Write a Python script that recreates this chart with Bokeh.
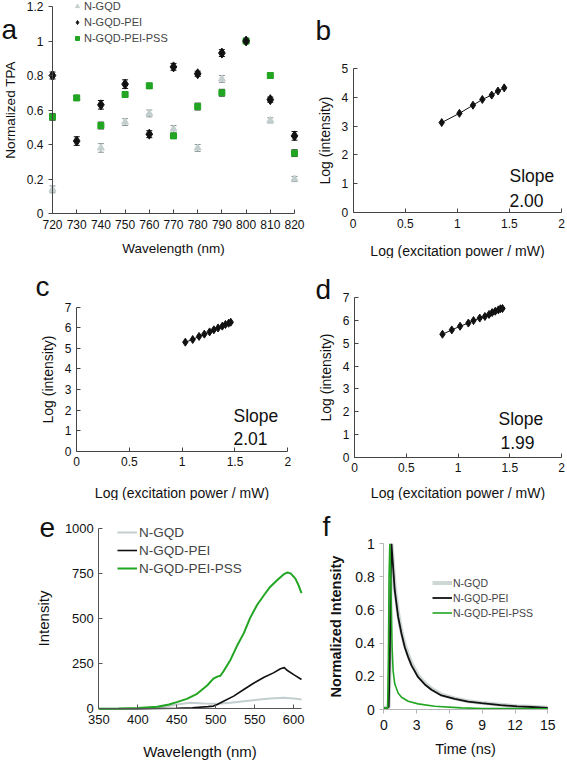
from bokeh.plotting import figure
from bokeh.layouts import row, column
from bokeh.models import (Label, Legend, LegendItem, Whisker, TeeHead, ColumnDataSource,
                          FixedTicker, Range1d, CustomJSTickFormatter)
from bokeh.embed import file_html
from bokeh.resources import INLINE

FONT = "Liberation Sans"
GREEN = "#22a522"
LGRAY = "#c3cece"
BLACK = "#111111"

# ---------------- (a) two-photon absorption ----------------
wavelength_a = [720, 730, 740, 750, 760, 770, 780, 790, 800, 810, 820]
tpa_ngqd = [0.14, 0.67, 0.38, 0.53, 0.58, 0.49, 0.38, 0.78, 1.00, 0.54, 0.20]
tpa_ngqd_err = [0.02, 0.01, 0.025, 0.02, 0.02, 0.02, 0.02, 0.02, 0.01, 0.015, 0.015]
tpa_pei = [0.80, 0.42, 0.63, 0.75, 0.46, 0.85, 0.81, 0.93, 1.00, 0.66, 0.45]
tpa_pei_err = [0.02, 0.025, 0.025, 0.025, 0.02, 0.02, 0.015, 0.02, 0.015, 0.015, 0.025]
tpa_pss = [0.56, 0.67, 0.51, 0.69, 0.74, 0.45, 0.62, 0.70, 1.00, 0.80, 0.35]
tpa_pss_err = [0.02, 0.015, 0.02, 0.015, 0.015, 0.01, 0.02, 0.02, 0.015, 0.015, 0.02]

# ---------------- (b)(c)(d) power dependence ----------------
power_b = [0.85, 1.02, 1.15, 1.24, 1.33, 1.39, 1.45]
logint_b = [3.12, 3.44, 3.72, 3.92, 4.07, 4.21, 4.32]
power_c = [1.03, 1.10, 1.16, 1.21, 1.26, 1.30, 1.34, 1.38, 1.41, 1.44, 1.46]
logint_c = [5.30, 5.43, 5.58, 5.69, 5.80, 5.90, 5.99, 6.08, 6.16, 6.22, 6.27]
power_d = [0.85, 0.94, 1.02, 1.10, 1.15, 1.21, 1.26, 1.30, 1.33, 1.36, 1.39, 1.41, 1.43]
logint_d = [5.40, 5.59, 5.75, 5.89, 6.00, 6.11, 6.18, 6.27, 6.35, 6.41, 6.47, 6.52, 6.53]
slopes = ["2.00", "2.01", "1.99"]

# ---------------- (e) emission spectra ----------------
wl_e_ngqd = [350, 403, 425, 450, 467, 485, 502, 519, 536, 553, 570, 587, 604, 610]
int_e_ngqd = [0, 2, 6, 24, 33, 29, 28, 33, 42, 50, 57, 61, 55, 51]
wl_e_pei = [350, 400, 450, 470, 490, 497, 502, 510, 523, 536, 549, 562, 574, 583, 588, 591, 600, 610]
int_e_pei = [0, 1, 3, 6, 12, 15, 24, 42, 70, 107, 143, 175, 199, 222, 228, 215, 189, 162]
wl_e_pss = [350, 375, 400, 425, 440, 450, 463, 476, 489, 497, 502, 506, 510, 519, 527,
            536, 544, 553, 562, 570, 579, 587, 592, 596, 602, 606, 610]
int_e_pss = [0, 1, 4, 11, 24, 37, 55, 83, 129, 167, 178, 183, 208, 272, 346,
             419, 502, 575, 630, 676, 713, 744, 755, 750, 722, 686, 640]

# ---------------- (f) decay curves ----------------
t_f_ngqd = [0, 0.3, 0.45, 0.55, 0.62, 0.70, 0.85, 1.0, 1.31, 1.62, 1.92, 2.23, 2.53, 3.14,
            3.75, 4.36, 5.27, 6.49, 7.71, 8.93, 10.7, 12.2, 13.5, 15]
i_f_ngqd = [0.01, 0.01, 0.015, 0.3, 0.75, 1.0, 0.87, 0.74, 0.58, 0.47, 0.39, 0.33, 0.28, 0.205,
            0.16, 0.125, 0.09, 0.067, 0.05, 0.04, 0.028, 0.02, 0.016, 0.011]
t_f_pei = [0, 0.3, 0.45, 0.55, 0.62, 0.70, 0.85, 1.0, 1.31, 1.62, 1.92, 2.23, 2.53, 3.14,
           3.75, 4.36, 5.27, 6.49, 7.71, 8.93, 10.7, 12.2, 13.5, 15]
i_f_pei = [0.01, 0.01, 0.015, 0.3, 0.75, 1.0, 0.86, 0.72, 0.56, 0.457, 0.376, 0.316, 0.266, 0.195,
           0.151, 0.119, 0.085, 0.064, 0.048, 0.038, 0.026, 0.019, 0.015, 0.01]
t_f_pss = [0, 0.35, 0.42, 0.48, 0.55, 0.64, 0.70, 0.76, 0.85, 1.0, 1.31, 1.62, 2.23, 3.14,
           4.66, 7.1, 9, 12, 15]
i_f_pss = [0.01, 0.01, 0.3, 0.8, 1.0, 0.78, 0.577, 0.376, 0.235, 0.155, 0.099, 0.074, 0.05,
           0.034, 0.02, 0.01, 0.006, 0.005, 0.004]

series_names = ["N-GQD", "N-GQD-PEI", "N-GQD-PEI-PSS"]

fmt = CustomJSTickFormatter(code="return String(Math.round(tick*1000)/1000);")


def panel(off, size, xmap, ymap):
    """Figure whose frame fills the canvas; axes sit at fixed data locations.
    off: page offset of canvas; xmap/ymap: (data0, page_px0, data1, page_px1)."""
    ox, oy = off
    W, H = size
    x0, px0, x1, px1 = xmap
    y0, py0, y1, py1 = ymap
    sx = (x1 - x0) / (px1 - px0)
    sy = (y1 - y0) / (py0 - py1)
    xr = Range1d(x0 + (ox - px0) * sx, x0 + (ox + W - px0) * sx)
    yr = Range1d(y0 - (oy + H - py0) * sy, y0 + (py0 - oy) * sy)
    p = figure(width=W, height=H, x_range=xr, y_range=yr, title=None,
               output_backend="svg", toolbar_location=None, min_border=0)
    p.xgrid.visible = False
    p.ygrid.visible = False
    p.outline_line_color = None
    p.xaxis.fixed_location = y0
    p.yaxis.fixed_location = x0
    p.xaxis.bounds = (x0, x1)
    p.yaxis.bounds = (y0, y1)

    def to_data(px, py):
        return x0 + (px - px0) * sx, y0 + (py0 - py) * sy

    def legend_loc(px_left, py_bottom):
        return (px_left - ox, oy + H - py_bottom)

    return p, to_data, legend_loc


def style(p, xlabel, ylabel, xticks, yticks, tick_fs, lab_fs, axis_color="#444444",
          x_in=True, y_in=True, ylab_bold=False, xlab_standoff=8, ylab_standoff=6):
    xa, ya = p.xaxis[0], p.yaxis[0]
    for ax in (xa, ya):
        ax.axis_line_color = axis_color
        ax.major_tick_line_color = axis_color
        ax.minor_tick_line_color = None
        ax.major_label_text_font = FONT
        ax.major_label_text_font_size = tick_fs
        ax.major_label_text_color = BLACK
        ax.axis_label_text_font = FONT
        ax.axis_label_text_font_size = lab_fs
        ax.axis_label_text_font_style = "normal"
        ax.axis_label_text_color = BLACK
        ax.formatter = fmt
    xa.axis_label = xlabel
    ya.axis_label = ylabel
    xa.ticker = FixedTicker(ticks=xticks)
    ya.ticker = FixedTicker(ticks=yticks)
    xa.major_tick_in, xa.major_tick_out = (4, 0) if x_in else (0, 4)
    ya.major_tick_in, ya.major_tick_out = (4, 0) if y_in else (0, 4)
    xa.major_label_standoff = 6
    ya.major_label_standoff = 5
    xa.axis_label_standoff = xlab_standoff
    ya.axis_label_standoff = ylab_standoff
    if ylab_bold:
        ya.axis_label_text_font_style = "bold"


def add_text(p, to_data, px, py, txt, size, color=BLACK):
    # py is the wanted baseline in page pixels; the svg text sits ~0.38 em lower
    x, y = to_data(px, py - 0.38 * size)
    p.add_layout(Label(x=x, y=y, text=txt, text_font=FONT, text_font_size=f"{size}px",
                       text_align="left", text_baseline="alphabetic", text_color=color))


def legend(p, items, loc, fs, pitch, gw, standoff):
    lg = Legend(items=items, location=loc, label_text_font=FONT, label_text_font_size=fs,
                label_height=pitch, glyph_height=pitch, glyph_width=gw, spacing=0,
                padding=0, margin=0, label_standoff=standoff,
                border_line_color=None, background_fill_alpha=0)
    p.add_layout(lg)


LW, RW = 305, 261

# ---------------- panel a ----------------
pa, ta, la = panel((0, 0), (LW, 258), (720, 52, 820, 294), (0, 213, 1.2, 6))
style(pa, "Wavelength (nm)", "Normalized TPA", wavelength_a, [0, 0.2, 0.4, 0.6, 0.8, 1.0, 1.2],
      "12px", "13.5px", x_in=True, y_in=False, xlab_standoff=9, ylab_standoff=6)
renders = []
for vals, errs, marker, size, col, ecol in [
        (tpa_ngqd, tpa_ngqd_err, "triangle", 7, LGRAY, "#8a9595"),
        (tpa_pss, tpa_pss_err, "square", 6, GREEN, "#333333"),
        (tpa_pei, tpa_pei_err, "diamond", 10, BLACK, "#111111")]:
    src = ColumnDataSource(dict(x=wavelength_a, y=vals,
                                upper=[v + e for v, e in zip(vals, errs)],
                                lower=[v - e for v, e in zip(vals, errs)]))
    pa.add_layout(Whisker(source=src, base="x", upper="upper", lower="lower",
                          line_color=ecol, line_width=1,
                          upper_head=TeeHead(size=6, line_color=ecol, line_width=1),
                          lower_head=TeeHead(size=6, line_color=ecol, line_width=1)))
    r = pa.scatter("x", "y", source=src, marker=marker, size=size, fill_color=col,
                   line_color=col)
    renders.append(r)
legend(pa, [LegendItem(label=series_names[0], renderers=[renders[0]]),
            LegendItem(label=series_names[1], renderers=[renders[2]]),
            LegendItem(label=series_names[2], renderers=[renders[1]])],
       la(72, 46), "11px", 16, 10, 2)
add_text(pa, ta, 1, 40, "a", 28)


# ---------------- panels b, c, d ----------------
def power_panel(off, size, xmap, ymap, ymax, xs, ys, letter, lpos, spos, slope_pos, slope, xls):
    p, td, _ = panel(off, size, xmap, ymap)
    style(p, "Log (excitation power / mW)", "Log (intensity)", [0, 0.5, 1, 1.5, 2],
          list(range(0, ymax + 1)), "12px", "14px", x_in=True, y_in=True, xlab_standoff=xls)
    p.line(xs, ys, line_color=BLACK, line_width=1)
    p.scatter(xs, ys, marker="diamond", size=8, fill_color=BLACK, line_color=BLACK)
    add_text(p, td, lpos[0], lpos[1], letter, 28)
    add_text(p, td, spos[0], spos[1], "Slope", 17.5)
    add_text(p, td, slope_pos[0], slope_pos[1], slope, 17.5)
    return p


pb = power_panel((LW, 0), (RW, 258), (0, 352.7, 2, 561), (0, 212.3, 5, 67.7), 5, power_b, logint_b,
                 "b", (315, 41), (509, 182), (509, 207), slopes[0], 12)
pc = power_panel((0, 258), (LW, 242), (0, 76, 2, 287.3), (0, 450.7, 7, 306.7), 7, power_c, logint_c,
                 "c", (35, 297), (233, 422), (233, 445), slopes[1], 15)
pd = power_panel((LW, 258), (RW, 242), (0, 354, 2, 561), (0, 456.7, 7, 297.3), 7, power_d, logint_d,
                 "d", (315, 300), (498, 425), (500, 449), slopes[2], 9)

# ---------------- panel e ----------------
pe, te, le = panel((0, 500), (LW, 265), (350, 98.3, 610, 301), (0, 708.3, 1000, 527.7))
style(pe, "Wavelength (nm)", "Intensity", [350, 400, 450, 500, 550, 600], [0, 250, 500, 750, 1000],
      "13px", "15px", axis_color="#555555", x_in=True, y_in=True, xlab_standoff=16, ylab_standoff=10)
re1 = pe.line(wl_e_ngqd, int_e_ngqd, line_color=LGRAY, line_width=2)
re2 = pe.line(wl_e_pei, int_e_pei, line_color=BLACK, line_width=1.6)
re3 = pe.line(wl_e_pss, int_e_pss, line_color=GREEN, line_width=2)
legend(pe, [LegendItem(label=n, renderers=[r]) for n, r in zip(series_names, [re1, re2, re3])],
       le(117, 577), "13.5px", 18, 20, 2)
add_text(pe, te, 39, 538, "e", 28)

# ---------------- panel f ----------------
pf, tf, lf = panel((LW, 500), (RW, 265), (0, 383.3, 15, 547.3), (0, 709, 1, 543.3))
style(pf, "Time (ns)", "Normalized Intensity", [0, 3, 6, 9, 12, 15], [0, 0.2, 0.4, 0.6, 0.8, 1.0],
      "14px", "14.5px", axis_color="#b5b5b5", x_in=False, y_in=False, ylab_bold=True,
      xlab_standoff=8, ylab_standoff=8)
rf1 = pf.line(t_f_ngqd, i_f_ngqd, line_color="#cfd6d6", line_width=4)
rf2 = pf.line(t_f_pei, i_f_pei, line_color=BLACK, line_width=1.8)
rf3 = pf.line(t_f_pss, i_f_pss, line_color=GREEN, line_width=1.6)
legend(pf, [LegendItem(label=n, renderers=[r]) for n, r in zip(series_names, [rf1, rf2, rf3])],
       lf(432, 620), "10.5px", 15, 20, 1)
add_text(pf, tf, 322, 537, "f", 28)

layout = column(row(pa, pb), row(pc, pd), row(pe, pf))
open("out.html", "w").write(file_html(layout, INLINE))
